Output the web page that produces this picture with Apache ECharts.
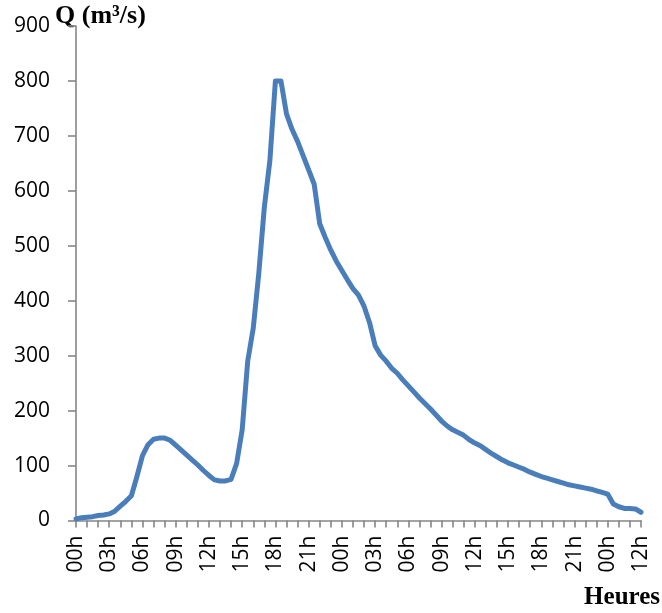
<!DOCTYPE html>
<html>
<head>
<meta charset="utf-8">
<script src="https://cdn.jsdelivr.net/npm/echarts@6/dist/echarts.min.js"></script>
<style>html,body{margin:0;padding:0;background:#fff;}#c{width:662px;height:613px;}</style>
</head>
<body>
<div id="c"></div>
<script>
// Tick labels on the time axis (one every 3 hours, i.e. every 6 half-hour points)
const tickLabels = ["00h","03h","06h","09h","12h","15h","18h","21h","00h","03h","06h","09h","12h","15h","18h","21h","00h","12h"];
// Discharge Q (m3/s), one value per half hour
const discharge = [
  3, 5, 6, 7, 9, 10, 12, 17, 26, 35, 45, 80, 118, 138, 148, 150, 150, 146, 137, 128,
  119, 110, 101, 91, 82, 74, 72, 72, 75, 104, 165, 290, 350, 450, 570, 655, 800, 800, 740, 712,
  690, 664, 638, 612, 540, 515, 492, 472, 455, 438, 422, 410, 390, 360, 318, 301, 290, 277, 268, 256,
  245, 234, 223, 213, 203, 192, 181, 172, 165, 160, 155, 147, 141, 136, 129, 122, 116, 110, 105, 101,
  97, 93, 88, 84, 80, 77, 74, 71, 68, 65, 63, 61, 59, 57, 54, 51, 48, 30, 25, 22,
  22, 21, 15
];
const yAxisTitle = "Q (m³/s)";
const xAxisTitle = "Heures";

const categories = discharge.map((_, i) => (i % 6 === 0 ? tickLabels[i / 6] : ""));

const chart = echarts.init(document.getElementById('c'), null, {renderer: 'canvas'});
const axisColor = '#868686';
const labelFont = "'Open Sans', sans-serif";
chart.setOption({
  animation: false,
  backgroundColor: '#ffffff',
  grid: {left: 76, right: 21, top: 26, bottom: 92.5, containLabel: false, outerBoundsMode: 'none'},
  xAxis: {
    type: 'category',
    data: categories,
    boundaryGap: false,
    axisLine: {show: true, lineStyle: {color: axisColor, width: 1.6}},
    axisTick: {show: true, length: 7, interval: (i) => i % 2 === 0, lineStyle: {color: axisColor, width: 1.6}},
    axisLabel: {
      interval: (i) => i % 6 === 0,
      rotate: 90,
      margin: 15,
      color: '#000',
      fontFamily: labelFont,
      fontSize: 21
    },
    splitLine: {show: false}
  },
  yAxis: {
    type: 'value',
    min: 0, max: 900, interval: 100,
    axisLine: {show: true, lineStyle: {color: axisColor, width: 1.6}},
    axisTick: {show: true, length: 8, lineStyle: {color: axisColor, width: 1.6}},
    axisLabel: {margin: 26, color: '#000', fontFamily: labelFont, fontSize: 21},
    splitLine: {show: false}
  },
  series: [{
    type: 'line',
    data: discharge,
    showSymbol: false,
    symbol: 'none',
    lineStyle: {color: '#4A7EBB', width: 5, cap: 'round', join: 'round'}
  }],
  graphic: [
    {type: 'text', left: 55, top: 3, style: {text: yAxisTitle, font: "bold 26px 'Liberation Serif', serif", fill: '#000'}},
    {type: 'text', right: 2, top: 585, style: {text: xAxisTitle, font: "bold 25px 'Liberation Serif', serif", fill: '#000'}}
  ]
});
</script>
</body>
</html>
